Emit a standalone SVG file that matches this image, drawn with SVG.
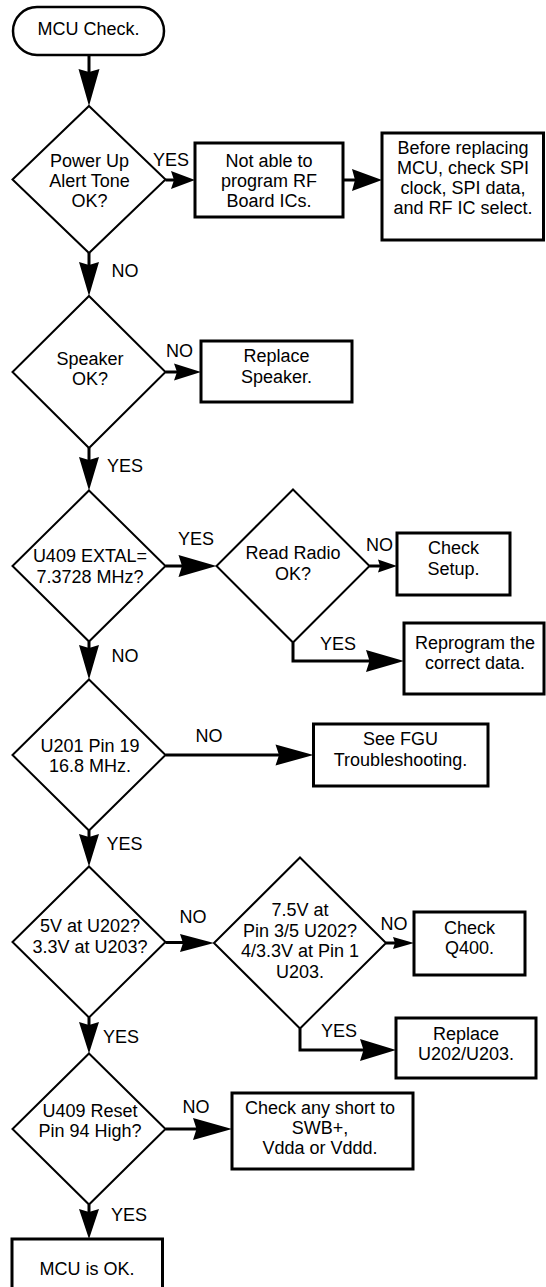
<svg xmlns="http://www.w3.org/2000/svg" width="546" height="1287" viewBox="0 0 546 1287">
<style>
.box{fill:#fff;stroke:#000;stroke-width:3}
.dia{fill:#fff;stroke:#000;stroke-width:2}
.term{fill:#fff;stroke:#000;stroke-width:2.5}
.ln{fill:none;stroke:#000;stroke-width:3}
.ah{fill:#000;stroke:none}
text{font-family:"Liberation Sans",Arial,sans-serif;font-size:18px;fill:#000;text-anchor:middle}
</style>
<rect width="546" height="1287" fill="#fff"/>
<g id="start"><rect class="term" x="13" y="7" width="151" height="48" rx="24" ry="24"/><text x="88.5" y="35">MCU Check.</text></g>
<g id="d1"><polygon class="dia" points="89,106 165.5,179.5 89,253 12.5,179.5"/><text x="89.5" y="166.5">Power Up</text><text x="89.5" y="186.5">Alert Tone</text><text x="89.5" y="206.5">OK?</text></g>
<g id="b1"><rect class="box" x="195" y="143" width="148" height="74"/><text x="269" y="166.5">Not able to</text><text x="269" y="186.5">program RF</text><text x="269" y="206.5">Board ICs.</text></g>
<g id="b2"><rect class="box" x="382" y="133" width="161.5" height="107"/><text x="463" y="154">Before replacing</text><text x="463" y="174">MCU, check SPI</text><text x="463" y="194">clock, SPI data,</text><text x="463" y="214">and RF IC select.</text></g>
<g id="d2"><polygon class="dia" points="89,296 165.5,372 89,448 12.5,372"/><text x="90" y="365">Speaker</text><text x="90" y="385">OK?</text></g>
<g id="b3"><rect class="box" x="201" y="341" width="151" height="61"/><text x="276.5" y="362">Replace</text><text x="276.5" y="383">Speaker.</text></g>
<g id="d3"><polygon class="dia" points="89,490.5 165.5,566 89,641.5 12.5,566"/><text x="90" y="562">U409 EXTAL=</text><text x="90" y="583">7.3728 MHz?</text></g>
<g id="d4"><polygon class="dia" points="293,489.5 369.5,566 293,642.5 216.5,566"/><text x="293" y="558.5">Read Radio</text><text x="293" y="579.5">OK?</text></g>
<g id="b4"><rect class="box" x="397" y="533" width="113" height="62"/><text x="453.5" y="553.5">Check</text><text x="453.5" y="574.5">Setup.</text></g>
<g id="b5"><rect class="box" x="404" y="623" width="140" height="71"/><text x="475" y="648.5">Reprogram the</text><text x="475" y="668.5">correct data.</text></g>
<g id="d5"><polygon class="dia" points="89,679.5 165.5,755 89,830.5 12.5,755"/><text x="90" y="751.5">U201 Pin 19</text><text x="90" y="771.5">16.8 MHz.</text></g>
<g id="b6"><rect class="box" x="313.5" y="724" width="174.5" height="62"/><text x="400.5" y="745">See FGU</text><text x="400.5" y="766">Troubleshooting.</text></g>
<g id="d6"><polygon class="dia" points="89,866.5 165.5,942 89,1017.5 12.5,942"/><text x="90" y="932">5V at U202?</text><text x="90" y="953">3.3V at U203?</text></g>
<g id="d7"><polygon class="dia" points="300,857.5 386,943 300,1028.5 214,943"/><text x="300" y="916">7.5V at</text><text x="300" y="936.5">Pin 3/5 U202?</text><text x="300" y="957">4/3.3V at Pin 1</text><text x="300" y="977.5">U203.</text></g>
<g id="b7"><rect class="box" x="414" y="912" width="111" height="63"/><text x="469.5" y="933.5">Check</text><text x="469.5" y="953.5">Q400.</text></g>
<g id="b8"><rect class="box" x="396" y="1018" width="140" height="60"/><text x="466" y="1040">Replace</text><text x="466" y="1060">U202/U203.</text></g>
<g id="d8"><polygon class="dia" points="89,1053.5 165.5,1129 89,1204.5 12.5,1129"/><text x="90" y="1117">U409 Reset</text><text x="90" y="1137">Pin 94 High?</text></g>
<g id="b9"><rect class="box" x="232" y="1093" width="181" height="76"/><text x="320" y="1113.5">Check any short to</text><text x="320" y="1133.5">SWB+,</text><text x="320" y="1153.5">Vdda or Vddd.</text></g>
<g id="b10"><rect class="box" x="12" y="1239" width="150.5" height="60"/><text x="87" y="1274.5">MCU is OK.</text></g>
<g id="connectors">
<path class="ln" d="M89,55V80"/><polygon class="ah" points="89,106 78.5,69 89,72 99.5,69"/>
<path class="ln" d="M165.5,180H180"/><polygon class="ah" points="195,180 171,171 174,180 171,189"/>
<path class="ln" d="M343,180H362"/><polygon class="ah" points="382,180 352,169 355,180 352,191"/>
<path class="ln" d="M89,253V270"/><polygon class="ah" points="89,296 79,262 89,265 99,262"/>
<path class="ln" d="M165.5,372H185"/><polygon class="ah" points="201,372 174,363.5 177,372 174,380.5"/>
<path class="ln" d="M89,448V465"/><polygon class="ah" points="89,490.5 79,457 89,460 99,457"/>
<path class="ln" d="M165.5,566H190"/><polygon class="ah" points="216.5,566 178.5,555 182,566 178.5,577"/>
<path class="ln" d="M369.5,566H385"/><polygon class="ah" points="397,566 378,559.5 380,566 378,572.5"/>
<text x="171" y="166">YES</text>
<text x="125" y="277">NO</text>
<text x="179.5" y="357">NO</text>
<text x="125" y="472">YES</text>
<text x="196" y="545">YES</text>
<text x="379.5" y="551">NO</text>
<path class="ln" d="M293,642.5V661H375"/><polygon class="ah" points="404,661 366,650 369.5,661 366,672"/>
<text x="338" y="650">YES</text>
<path class="ln" d="M89,641.5V655"/><polygon class="ah" points="89,679.5 79,645 89,648 99,645"/>
<text x="125" y="662">NO</text>
<path class="ln" d="M165.5,755H285"/><polygon class="ah" points="313.5,755 275.5,744.5 279,755 275.5,765.5"/>
<text x="209" y="742">NO</text>
<path class="ln" d="M89,830.5V845"/><polygon class="ah" points="89,866.5 79,834 89,837 99,834"/>
<text x="124.5" y="850">YES</text>
<path class="ln" d="M165.5,942.5H190"/><polygon class="ah" points="214,943 180,934 183,943 180,952"/>
<text x="193" y="923">NO</text>
<path class="ln" d="M386,943H400"/><polygon class="ah" points="414,943 393,937 395,943 393,949"/>
<text x="394" y="930">NO</text>
<path class="ln" d="M300,1028.5V1050H368"/><polygon class="ah" points="396,1050 360,1039 363.5,1050 360,1061"/>
<text x="339" y="1037">YES</text>
<path class="ln" d="M89,1017.5V1030"/><polygon class="ah" points="89,1053.5 79,1022 89,1025 99,1022"/>
<text x="121" y="1043">YES</text>
<path class="ln" d="M165.5,1129H200"/><polygon class="ah" points="232,1129 193,1118 196.5,1129 193,1140"/>
<text x="196" y="1113">NO</text>
<path class="ln" d="M89,1204.5V1215"/><polygon class="ah" points="89,1239 79,1209 89,1212 99,1209"/>
<text x="129" y="1221">YES</text>
</g>
</svg>
